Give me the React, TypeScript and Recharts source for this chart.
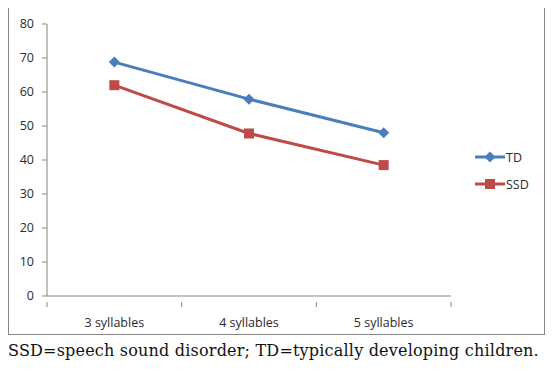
import React from "react";
import { Line, LineChart, XAxis, YAxis } from "recharts";

const categories = ["3 syllables", "4 syllables", "5 syllables"];
const tdValues = [68.8, 57.9, 48.0];
const ssdValues = [62.0, 47.8, 38.5];
const yTicks = [0, 10, 20, 30, 40, 50, 60, 70, 80];

const data = categories.map((name, i) => ({
  name,
  TD: tdValues[i],
  SSD: ssdValues[i],
}));

const BLUE = "#4a7ebb";
const RED = "#be4b48";
const AXIS = "#868686";
const TEXT = "#2b2b2b";
const FONT = "'Open Sans', 'Liberation Sans', sans-serif";
const FS = 12.5;

function Diamond({ cx, cy, r = 5.5, fill }: any) {
  return <polygon points={`${cx},${cy - r} ${cx + r},${cy} ${cx},${cy + r} ${cx - r},${cy}`} fill={fill} />;
}

function Square({ cx, cy, r = 5, fill }: any) {
  return <rect x={cx - r} y={cy - r} width={r * 2} height={r * 2} fill={fill} />;
}

function CategoryTick(props: any) {
  const { x, y, payload, index } = props;
  const half = payload.offset || 0;
  return (
    <g>
      <line x1={x - half} y1={y - 2} x2={x - half} y2={y + 3} stroke={AXIS} />
      {index === categories.length - 1 && (
        <line x1={x + half} y1={y - 2} x2={x + half} y2={y + 3} stroke={AXIS} />
      )}
      <text x={x} y={y + 23} textAnchor="middle" fontSize={FS} fill={TEXT} fontFamily={FONT}>
        {payload.value}
      </text>
    </g>
  );
}

function LegendBox() {
  const items = [
    { label: "TD", color: BLUE, square: false },
    { label: "SSD", color: RED, square: true },
  ];
  return (
    <svg width={72} height={60} style={{ position: "absolute", left: 464, top: 140 }}>
      {items.map((it, i) => {
        const cy = 9 + i * 27;
        return (
          <g key={it.label}>
            <line x1={2} y1={cy} x2={32} y2={cy} stroke={it.color} strokeWidth={3} />
            {it.square ? <Square cx={17} cy={cy} fill={it.color} /> : <Diamond cx={17} cy={cy} fill={it.color} />}
            <text x={33} y={cy + 4.5} fontSize={FS} fill={TEXT} fontFamily={FONT}>
              {it.label}
            </text>
          </g>
        );
      })}
    </svg>
  );
}

export default function App() {
  return (
    <div style={{ marginTop: -1 }}>
      <div style={{ position: "relative", width: 535, height: 326, border: `1px solid ${AXIS}` }}>
        <LineChart width={535} height={326} data={data} margin={{ top: 16, right: 93, bottom: 8, left: 8 }}>
          <XAxis
            dataKey="name"
            scale="band"
            stroke={AXIS}
            tickLine={false}
            height={30}
            tick={<CategoryTick />}
            interval={0}
          />
          <YAxis
            domain={[0, 80]}
            ticks={yTicks}
            width={30}
            stroke={AXIS}
            tickSize={5}
            tickMargin={8}
            tick={{ fontSize: FS, fill: TEXT, fontFamily: FONT }}
            interval={0}
          />
          <Line
            dataKey="TD"
            stroke={BLUE}
            strokeWidth={3}
            isAnimationActive={false}
            dot={(p: any) => <Diamond key={p.index} cx={p.cx} cy={p.cy} fill={BLUE} />}
          />
          <Line
            dataKey="SSD"
            stroke={RED}
            strokeWidth={3}
            isAnimationActive={false}
            dot={(p: any) => <Square key={p.index} cx={p.cx} cy={p.cy} fill={RED} />}
          />
        </LineChart>
        <LegendBox />
      </div>
      <div
        style={{
          width: 538,
          marginTop: 6,
          fontFamily: "'DejaVu Serif', 'Liberation Serif', serif",
          fontSize: 16,
          letterSpacing: 0.2,
          whiteSpace: "nowrap",
          color: "#111",
        }}
      >
        SSD=speech sound disorder; TD=typically developing children.
      </div>
    </div>
  );
}
